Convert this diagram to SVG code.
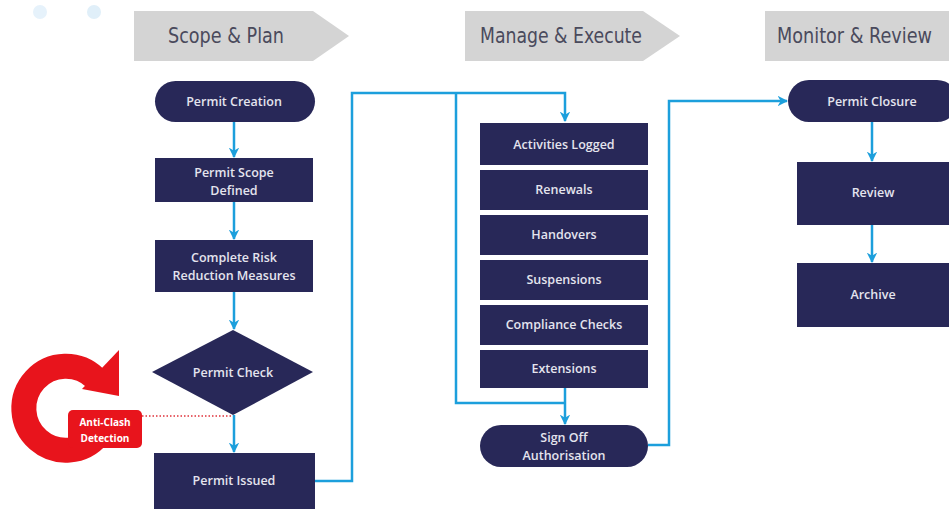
<svg xmlns="http://www.w3.org/2000/svg" width="949" height="509" viewBox="0 0 949 509">
<defs>
<style>
.banner{fill:#d4d4d4}
.btxt{font-family:"DejaVu Sans","Liberation Sans",sans-serif;font-stretch:condensed;font-size:21px;fill:#4a4a5c}
.node{fill:#282858}
.ntxt{font-family:"Open Sans","Noto Sans",sans-serif;font-size:12.5px;font-weight:600;fill:#e4e4ee;text-anchor:middle}
.conn{fill:none;stroke:#1c9fdc;stroke-width:2.5}
.red{fill:#e8141c}
.rtxt{font-family:"Open Sans","Liberation Sans",sans-serif;font-size:10px;font-weight:700;fill:#ffffff;text-anchor:middle}
</style>
<marker id="ah" viewBox="0 0 10 10" refX="9" refY="5" markerWidth="4.2" markerHeight="4.2" orient="auto" markerUnits="strokeWidth">
<path d="M0,0 L10,5 L0,10 L3,5 Z" fill="#1c9fdc"/>
</marker>
</defs>
<rect width="949" height="509" fill="#ffffff"/>
<g id="dots">
<circle cx="40" cy="12" r="7" fill="#e6f2fb"/>
<circle cx="94" cy="12" r="7" fill="#e0eff9"/>
</g>
<g id="banner-scope">
<polygon class="banner" points="134,11 313,11 349,36 313,61 134,61"/>
<text class="btxt" x="168" y="43" textLength="116" lengthAdjust="spacingAndGlyphs">Scope &amp; Plan</text>
</g>
<g id="banner-manage">
<polygon class="banner" points="465,11 643,11 680,36 643,61 465,61"/>
<text class="btxt" x="480" y="43" textLength="162" lengthAdjust="spacingAndGlyphs">Manage &amp; Execute</text>
</g>
<g id="banner-monitor">
<polygon class="banner" points="765,11 949,11 949,61 765,61"/>
<text class="btxt" x="777" y="43" textLength="155" lengthAdjust="spacingAndGlyphs">Monitor &amp; Review</text>
</g>
<g id="connectors">
<line class="conn" x1="234" y1="122" x2="234" y2="157" marker-end="url(#ah)"/>
<line class="conn" x1="234" y1="202" x2="234" y2="239" marker-end="url(#ah)"/>
<line class="conn" x1="234" y1="292" x2="234" y2="329" marker-end="url(#ah)"/>
<line class="conn" x1="234" y1="415" x2="234" y2="452" marker-end="url(#ah)"/>
<polyline class="conn" points="315,481 352,481 352,93 565,93 565,121" marker-end="url(#ah)"/>
<polyline class="conn" points="456,93 456,403 565,403"/>
<line class="conn" x1="565" y1="388" x2="565" y2="424" marker-end="url(#ah)"/>
<polyline class="conn" points="648,445 669,445 669,101 787,101" marker-end="url(#ah)"/>
<line class="conn" x1="872" y1="122" x2="872" y2="161" marker-end="url(#ah)"/>
<line class="conn" x1="872" y1="225" x2="872" y2="262" marker-end="url(#ah)"/>
<line x1="142" y1="416" x2="233" y2="416" stroke="#e0303a" stroke-width="1.6" stroke-dasharray="1.5 2"/>
</g>
<g id="anti-clash">
<path d="M98.2,435 A42,42 0 1 1 95,378" fill="none" stroke="#e8141c" stroke-width="25"/>
<polygon class="red" points="119,350 82,389 119,396"/>
<rect class="red" x="68" y="410" width="74" height="38" rx="5"/>
<text class="rtxt" x="105" y="426">Anti-Clash</text>
<text class="rtxt" x="105" y="442">Detection</text>
</g>
<g id="permit-creation">
<rect class="node" x="155" y="81" width="160" height="41" rx="20.5"/>
<text class="ntxt" x="234" y="106">Permit Creation</text>
</g>
<g id="permit-scope">
<rect class="node" x="155" y="158" width="158" height="44"/>
<text class="ntxt" x="234" y="177">Permit Scope</text>
<text class="ntxt" x="234" y="195">Defined</text>
</g>
<g id="risk-reduction">
<rect class="node" x="155" y="240" width="158" height="52"/>
<text class="ntxt" x="234" y="262">Complete Risk</text>
<text class="ntxt" x="234" y="280">Reduction Measures</text>
</g>
<g id="permit-check">
<polygon class="node" points="233,330 313,372 233,415 152,372"/>
<text class="ntxt" x="233" y="377">Permit Check</text>
</g>
<g id="permit-issued">
<rect class="node" x="154" y="453" width="161" height="56"/>
<text class="ntxt" x="234" y="485">Permit Issued</text>
</g>
<g id="activities-logged">
<rect class="node" x="480" y="123" width="168" height="42"/>
<text class="ntxt" x="564" y="149">Activities Logged</text>
</g>
<g id="renewals">
<rect class="node" x="480" y="170" width="168" height="40"/>
<text class="ntxt" x="564" y="194">Renewals</text>
</g>
<g id="handovers">
<rect class="node" x="480" y="215" width="168" height="40"/>
<text class="ntxt" x="564" y="239">Handovers</text>
</g>
<g id="suspensions">
<rect class="node" x="480" y="260" width="168" height="40"/>
<text class="ntxt" x="564" y="284">Suspensions</text>
</g>
<g id="compliance-checks">
<rect class="node" x="480" y="305" width="168" height="40"/>
<text class="ntxt" x="564" y="329">Compliance Checks</text>
</g>
<g id="extensions">
<rect class="node" x="480" y="350" width="168" height="38"/>
<text class="ntxt" x="564" y="373">Extensions</text>
</g>
<g id="sign-off">
<rect class="node" x="480" y="425" width="168" height="42" rx="21"/>
<text class="ntxt" x="564" y="442">Sign Off</text>
<text class="ntxt" x="564" y="460">Authorisation</text>
</g>
<g id="permit-closure">
<rect class="node" x="788" y="80" width="170" height="42" rx="21"/>
<text class="ntxt" x="872" y="106">Permit Closure</text>
</g>
<g id="review">
<rect class="node" x="797" y="162" width="160" height="63"/>
<text class="ntxt" x="873" y="197">Review</text>
</g>
<g id="archive">
<rect class="node" x="797" y="263" width="160" height="64"/>
<text class="ntxt" x="873" y="299">Archive</text>
</g>
</svg>
